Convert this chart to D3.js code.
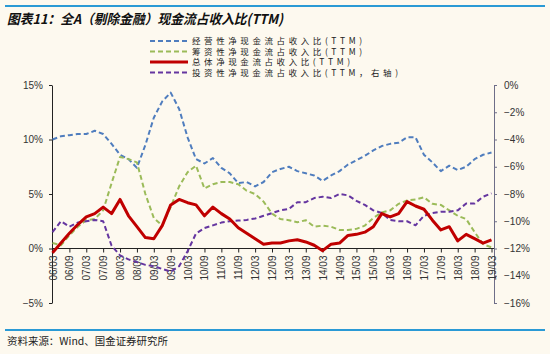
<!DOCTYPE html>
<html><head><meta charset="utf-8">
<script src="https://cdn.jsdelivr.net/npm/d3@7"></script>
<style>
html,body{margin:0;padding:0;background:#FDF9EF;}
svg{display:block;}
</style></head>
<body><svg id="c" width="550" height="354"></svg>
<script>
const quarters = ["06/03","06/06","06/09","06/12","07/03","07/06","07/09","07/12","08/03","08/06","08/09","08/12",
"09/03","09/06","09/09","09/12","10/03","10/06","10/09","10/12","11/03","11/06","11/09","11/12",
"12/03","12/06","12/09","12/12","13/03","13/06","13/09","13/12","14/03","14/06","14/09","14/12",
"15/03","15/06","15/09","15/12","16/03","16/06","16/09","16/12","17/03","17/06","17/09","17/12",
"18/03","18/06","18/09","18/12","19/03"];
const tickLabels = ["06/03","06/09","07/03","07/09","08/03","08/09","09/03","09/09","10/03","10/09","11/03","11/09",
"12/03","12/09","13/03","13/09","14/03","14/09","15/03","15/09","16/03","16/09","17/03","17/09","18/03","18/09","19/03"];
const leftTicks = [-5,0,5,10,15];
const rightTicks = [-16,-14,-12,-10,-8,-6,-4,-2,0];
const seriesNames = ["经营性净现金流占收入比(TTM)","筹资性净现金流占收入比(TTM)","总体净现金流占收入比(TTM)","投资性净现金流占收入比(TTM，右轴)"];
// 经营性 (left axis, %)
const operating = [10.0,10.3,10.4,10.5,10.5,10.8,10.5,9.6,8.6,8.2,7.4,9.5,
12.0,13.5,14.3,12.8,10.2,8.2,7.8,8.3,7.4,6.9,6.0,6.1,
5.7,6.1,7.0,7.3,7.5,7.1,6.9,6.7,6.2,6.7,7.1,7.7,
8.1,8.5,9.0,9.4,9.6,9.7,10.2,10.2,8.6,7.9,7.1,7.6,
7.2,7.5,8.2,8.6,8.8];
// 筹资性 (left axis, %)
const financing = [0.5,0.3,1.2,2.0,2.6,2.7,3.5,6.0,8.4,8.2,7.9,5.0,
2.8,2.1,3.8,5.7,7.0,7.6,5.5,5.9,6.1,6.1,5.9,5.3,
5.0,4.3,3.2,2.7,2.6,2.4,2.6,2.0,2.1,2.0,1.7,1.7,
1.8,2.1,2.8,3.3,3.5,4.1,4.4,4.5,4.7,4.1,4.0,3.5,
3.0,2.7,1.5,0.4,0.1];
// 总体 (left axis, %)
const total = [-0.4,0.5,1.4,2.2,2.9,3.2,3.8,3.2,4.5,3.0,2.0,1.0,
0.9,2.1,4.0,4.5,4.2,4.0,3.0,3.8,3.2,2.7,1.9,1.4,
0.9,0.4,0.5,0.5,0.7,0.8,0.6,0.3,-0.2,0.4,0.5,1.2,
1.3,1.5,2.0,3.2,2.9,3.2,4.3,3.9,3.6,2.6,1.7,2.0,
0.7,1.3,0.9,0.5,0.8];
// 投资性 (right axis, %)
const investing = [-10.8,-10.0,-10.4,-10.1,-10.0,-9.9,-10.0,-11.8,-12.5,-12.8,-13.0,-13.2,
-13.3,-13.5,-13.7,-13.3,-12.2,-10.9,-10.5,-10.3,-10.1,-10.0,-9.95,-9.9,
-9.8,-9.6,-9.4,-9.2,-9.1,-8.6,-8.6,-8.3,-8.2,-8.3,-8.0,-8.1,
-8.5,-8.8,-9.2,-9.4,-9.9,-10.0,-10.0,-10.3,-9.6,-9.4,-9.3,-9.3,
-9.2,-8.7,-8.7,-8.2,-7.95];

const svg = d3.select("#c");
const W = 550, H = 354;
svg.append("rect").attr("width",W).attr("height",H).attr("fill","#FDF9EF");

const plot = {left:52, right:494, top:85, bottom:303};
const x = d3.scalePoint().domain(quarters).range([plot.left+0.5, plot.right-2.5]);
const yL = d3.scaleLinear().domain([-5,15]).range([plot.bottom, plot.top]);
const yR = d3.scaleLinear().domain([-16,0]).range([plot.bottom, plot.top]);
const fmt = d => (d<0?"\u2212":"") + Math.abs(d) + "%";

// header / footer rules
svg.append("line").attr("x1",5).attr("x2",545).attr("y1",6).attr("y2",6).attr("stroke","#2A9AD5").attr("stroke-width",2);
svg.append("line").attr("x1",5).attr("x2",545).attr("y1",330).attr("y2",330).attr("stroke","#2A9AD5").attr("stroke-width",2);

svg.append("text").attr("x",7).attr("y",24)
  .attr("font-family","'Noto Sans CJK SC', sans-serif").attr("font-size",13.5).attr("font-weight","bold")
  .attr("font-style","italic").attr("fill","#111")
  .attr("textLength",276).attr("lengthAdjust","spacingAndGlyphs")
  .text("图表11：全A（剔除金融）现金流占收入比(TTM)");

svg.append("text").attr("x",7).attr("y",345)
  .attr("font-family","'Noto Sans CJK SC', sans-serif").attr("font-size",10).attr("fill","#222")
  .attr("textLength",161).attr("lengthAdjust","spacingAndGlyphs")
  .text("资料来源：Wind、国金证券研究所");

// axes
const axL = svg.append("g").attr("transform",`translate(${plot.left},0)`)
  .call(d3.axisLeft(yL).tickValues(leftTicks).tickFormat(fmt).tickSize(3).tickSizeOuter(0).tickPadding(6));
axL.select(".domain").attr("stroke","#222");
axL.selectAll(".tick line").attr("stroke","#222");
axL.selectAll("text").attr("font-family","'Liberation Sans', Arial, sans-serif").attr("font-size",10).attr("fill","#333");

const axR = svg.append("g").attr("transform",`translate(${plot.right},0)`)
  .call(d3.axisRight(yR).tickValues(rightTicks).tickFormat(fmt).tickSize(3).tickSizeOuter(0).tickPadding(7));
axR.select(".domain").attr("stroke","#6E6E88");
axR.selectAll(".tick line").attr("stroke","#6E6E88");
axR.selectAll("text").attr("font-family","'Liberation Sans', Arial, sans-serif").attr("font-size",10).attr("fill","#333");

const axX = svg.append("g").attr("transform",`translate(0,${yL(0)})`)
  .call(d3.axisBottom(x).tickValues(tickLabels).tickSize(4).tickSizeOuter(0));
axX.select(".domain").remove();
axX.append("line").attr("x1",plot.left).attr("x2",plot.right).attr("stroke","#222");
axX.selectAll(".tick line").attr("stroke","#222");
axX.selectAll("text")
  .attr("font-family","'Liberation Sans', Arial, sans-serif").attr("font-size",10).attr("fill","#333")
  .attr("transform","rotate(-90)").attr("text-anchor","end")
  .attr("x",-7).attr("y",0).attr("dy","0.35em");

// lines
const lineL = d3.line().x((d,i)=>x(quarters[i])).y(d=>yL(d));
const lineR = d3.line().x((d,i)=>x(quarters[i])).y(d=>yR(d));
const styles = [
  {data:operating, gen:lineL, color:"#4F7DBE", w:2, dash:"5,3"},
  {data:financing, gen:lineL, color:"#9BBB59", w:2, dash:"5,3"},
  {data:investing, gen:lineR, color:"#6536A0", w:2, dash:"5,3"},
  {data:total, gen:lineL, color:"#C00000", w:3, dash:null}
];
styles.forEach(s=>{
  svg.append("path").datum(s.data).attr("d",s.gen).attr("fill","none")
    .attr("stroke",s.color).attr("stroke-width",s.w)
    .attr("stroke-dasharray",s.dash).attr("stroke-linejoin","round");
});

// legend
const legItems = [
  {name:seriesNames[0], color:"#4F7DBE", w:2, dash:"5,3", len:170},
  {name:seriesNames[1], color:"#9BBB59", w:2, dash:"5,3", len:170},
  {name:seriesNames[2], color:"#C00000", w:3, dash:null, len:158},
  {name:seriesNames[3], color:"#6536A0", w:2, dash:"5,3", len:206}
];
const leg = svg.append("g");
legItems.forEach((it,i)=>{
  const yy = 41 + i*10.5;
  leg.append("line").attr("x1",150).attr("x2",188).attr("y1",yy).attr("y2",yy)
    .attr("stroke",it.color).attr("stroke-width",it.w).attr("stroke-dasharray",it.dash);
  leg.append("text").attr("x",192).attr("y",yy).attr("dy","0.36em")
    .attr("font-family","'Noto Sans CJK SC', sans-serif").attr("font-size",8.5).attr("fill","#222")
    .attr("textLength",it.len).attr("lengthAdjust","spacing")
    .text(it.name);
});
</script>
</body></html>
